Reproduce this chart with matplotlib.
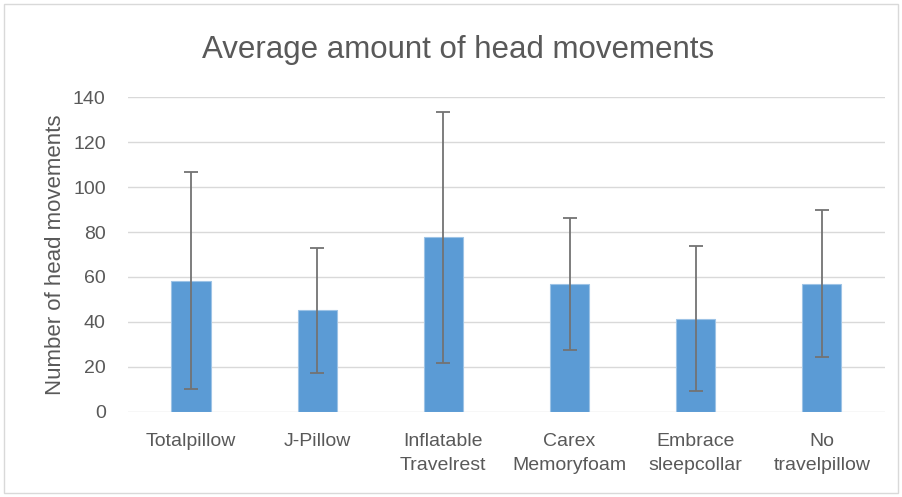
import matplotlib.pyplot as plt
import matplotlib.patches as patches
import numpy as np

categories = ['Totalpillow', 'J-Pillow', 'Inflatable\nTravelrest', 'Carex\nMemoryfoam',
              'Embrace\nsleepcollar', 'No\ntravelpillow']
means = [58.4, 45.1, 77.6, 57.0, 41.4, 57.0]
errors = [48.4, 27.7, 55.7, 29.3, 32.2, 32.7]
yticks = [0, 20, 40, 60, 80, 100, 120, 140]

plt.rcParams['font.family'] = ['Liberation Sans', 'DejaVu Sans']

fig = plt.figure(figsize=(9.03, 4.97), dpi=100)
ax = fig.add_axes([0.1417, 0.1716, 0.8383, 0.6326])

x = np.arange(len(categories))
ax.bar(x, means, width=0.31, color='#5B9BD5', edgecolor='#9DC3E6', linewidth=0.8, zorder=3)
ax.errorbar(x, means, yerr=errors, fmt='none', ecolor='#737373', elinewidth=1.3,
            capsize=5, capthick=1.3, zorder=4)

ax.set_xlim(-0.5, len(categories) - 0.5)
ax.set_ylim(0, 140)
ax.set_yticks(yticks)
ax.set_xticks(x)
ax.set_xticklabels(categories, fontsize=14, color='#595959', linespacing=1.6)
ax.tick_params(axis='y', labelsize=14, labelcolor='#595959', length=0, pad=16)
ax.tick_params(axis='x', length=0, pad=15)
ax.grid(axis='y', color='#d9d9d9', linewidth=1, zorder=0)
for s in ax.spines.values():
    s.set_visible(False)

ax.set_ylabel('Number of head movements', fontsize=16, color='#595959', labelpad=5)
fig.text(0.507, 0.90, 'Average amount of head movements', ha='center', va='center',
         fontsize=22.5, color='#595959')

border = patches.Rectangle((4 / 903, 4 / 497), 894 / 903, 489 / 497, transform=fig.transFigure,
                           fill=False, edgecolor='#d9d9d9', linewidth=1)
fig.patches.append(border)

plt.savefig('out.png', dpi=100)
